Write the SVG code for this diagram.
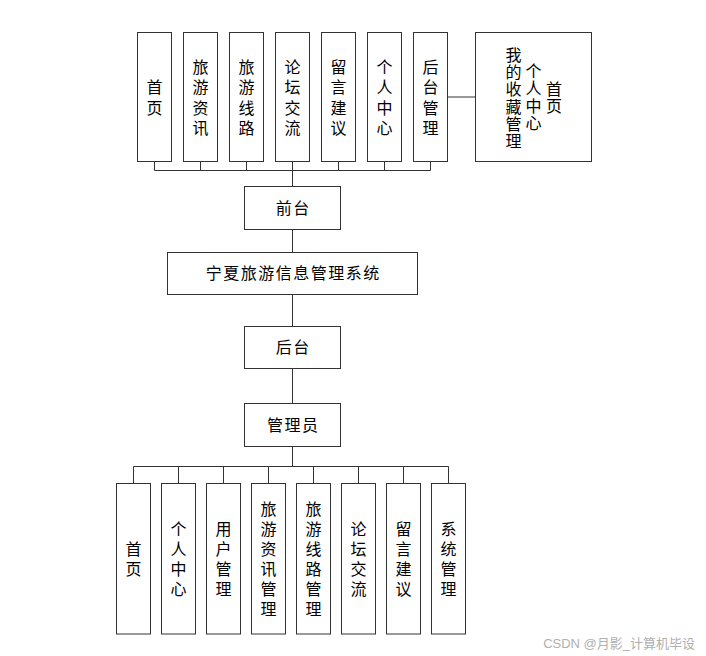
<svg xmlns="http://www.w3.org/2000/svg" width="706" height="656" viewBox="0 0 706 656">
<style>
.box{fill:#fff;stroke:#333;stroke-width:1}
.ln{fill:none;stroke:#333;stroke-width:1}
text{font-family:"Noto Sans CJK SC","Microsoft YaHei",sans-serif;font-size:16px;fill:#000}
.v{writing-mode:vertical-rl;text-anchor:middle;letter-spacing:4.5px}
.vb{writing-mode:vertical-rl;text-anchor:middle;letter-spacing:4px}
.vs{writing-mode:vertical-rl;text-anchor:middle;letter-spacing:1.3px}
.h{text-anchor:middle;letter-spacing:1.5px}
.wm{font-family:"Liberation Sans","Noto Sans CJK SC",sans-serif;font-size:13px;fill:#b0b0b0;text-anchor:end}
</style>
<rect width="706" height="656" fill="#fff"/>
<g id="connectors">
<path class="ln" d="M154.5,161.5V170.5M200.5,161.5V170.5M246.5,161.5V170.5M292.5,161.5V170.5M338.5,161.5V170.5M384.5,161.5V170.5M430.5,161.5V170.5M154.5,170.5H430.5M292.5,170.5V186.5"/>
<path class="ln" d="M447.5,97H475.5"/>
<path class="ln" d="M292.5,229.5V252.5M292.5,294.5V326.5M292.5,368.5V403.5M292.5,446.5V466.5"/>
<path class="ln" d="M133.5,466.5H448.5M133.5,466.5V483.5M178.5,466.5V483.5M223.5,466.5V483.5M268.5,466.5V483.5M313.5,466.5V483.5M358.5,466.5V483.5M403.5,466.5V483.5M448.5,466.5V483.5"/>
</g>
<g id="t1"><rect class="box" x="137.5" y="32.5" width="34" height="129"/><text class="v" x="154.5" y="99.5">首页</text></g>
<g id="t2"><rect class="box" x="183.5" y="32.5" width="34" height="129"/><text class="v" x="200.5" y="99.5">旅游资讯</text></g>
<g id="t3"><rect class="box" x="229.5" y="32.5" width="34" height="129"/><text class="v" x="246.5" y="99.5">旅游线路</text></g>
<g id="t4"><rect class="box" x="275.5" y="32.5" width="34" height="129"/><text class="v" x="292.5" y="99.5">论坛交流</text></g>
<g id="t5"><rect class="box" x="321.5" y="32.5" width="34" height="129"/><text class="v" x="338.5" y="99.5">留言建议</text></g>
<g id="t6"><rect class="box" x="367.5" y="32.5" width="34" height="129"/><text class="v" x="384.5" y="99.5">个人中心</text></g>
<g id="t7"><rect class="box" x="413.5" y="32.5" width="34" height="129"/><text class="v" x="430.5" y="99.5">后台管理</text></g>
<g id="t8"><rect class="box" x="475.5" y="32.5" width="116" height="129"/>
<text class="vs" x="513.5" y="98.5">我的收藏管理</text>
<text class="vs" x="533.5" y="97.5">个人中心</text>
<text class="vs" x="554" y="98">首页</text></g>
<g id="qiantai"><rect class="box" x="244.5" y="186.5" width="96" height="43"/><text class="h" x="293.3" y="213.8">前台</text></g>
<g id="system"><rect class="box" x="167.5" y="252.5" width="250" height="42"/><text class="h" x="293.3" y="279.3">宁夏旅游信息管理系统</text></g>
<g id="houtai"><rect class="box" x="244.5" y="326.5" width="96" height="42"/><text class="h" x="293.3" y="353.3">后台</text></g>
<g id="admin"><rect class="box" x="244.5" y="403.5" width="96" height="43"/><text class="h" x="293.3" y="430.5">管理员</text></g>
<g id="b1"><rect class="box" x="116.5" y="483.5" width="34" height="150.5"/><text class="vb" x="133.5" y="561">首页</text></g>
<g id="b2"><rect class="box" x="161.5" y="483.5" width="34" height="150.5"/><text class="vb" x="178.5" y="561">个人中心</text></g>
<g id="b3"><rect class="box" x="206.5" y="483.5" width="34" height="150.5"/><text class="vb" x="223.5" y="561">用户管理</text></g>
<g id="b4"><rect class="box" x="251.5" y="483.5" width="34" height="150.5"/><text class="vb" x="268.5" y="561">旅游资讯管理</text></g>
<g id="b5"><rect class="box" x="296.5" y="483.5" width="34" height="150.5"/><text class="vb" x="313.5" y="561">旅游线路管理</text></g>
<g id="b6"><rect class="box" x="341.5" y="483.5" width="34" height="150.5"/><text class="vb" x="358.5" y="561">论坛交流</text></g>
<g id="b7"><rect class="box" x="386.5" y="483.5" width="34" height="150.5"/><text class="vb" x="403.5" y="561">留言建议</text></g>
<g id="b8"><rect class="box" x="431.5" y="483.5" width="34" height="150.5"/><text class="vb" x="448.5" y="561">系统管理</text></g>
<text class="wm" x="695" y="647.5">CSDN @月影_计算机毕设</text>
</svg>
